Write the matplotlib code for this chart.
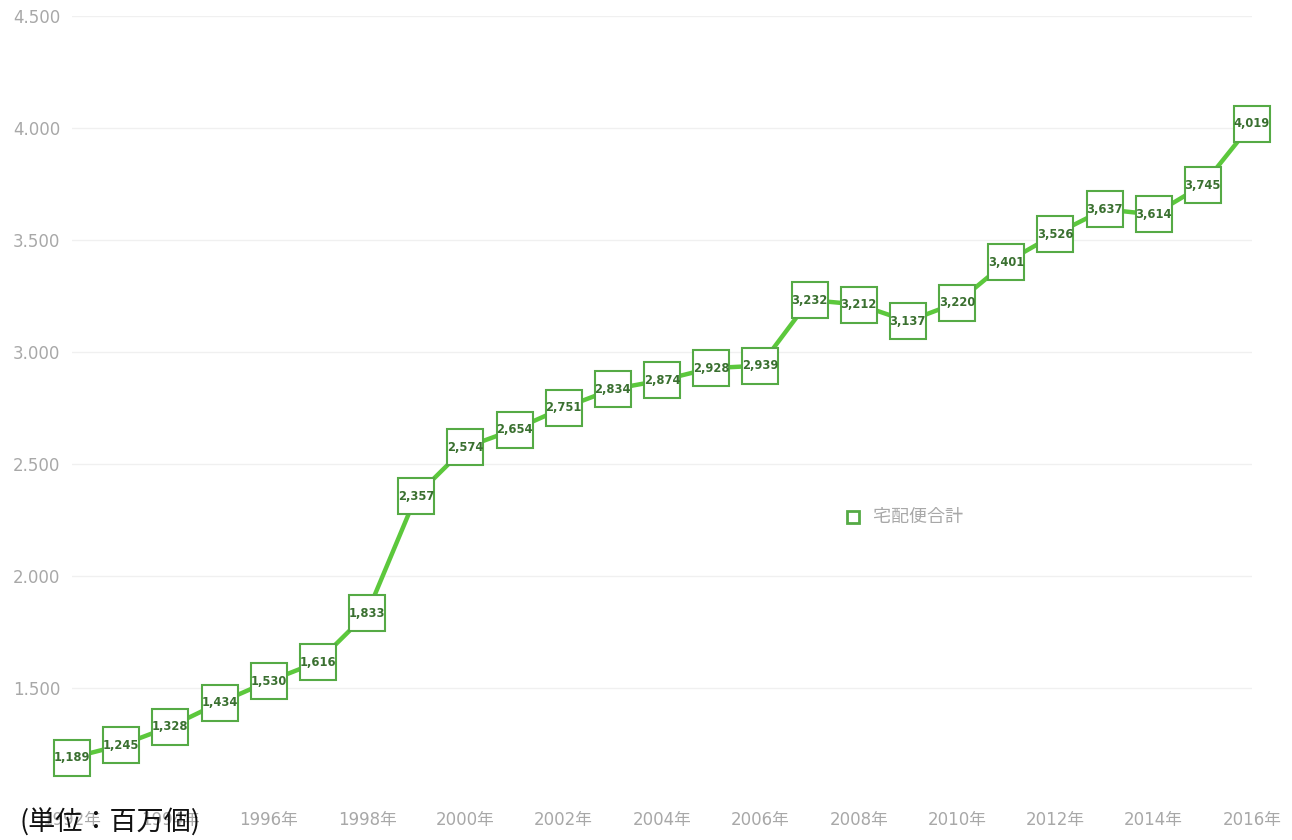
import matplotlib
matplotlib.use("Agg")
import matplotlib.pyplot as plt
from matplotlib.ticker import FuncFormatter

plt.rcParams['font.family'] = ['Noto Sans CJK JP', 'DejaVu Sans']

years = list(range(1992, 2017))
values = [1189, 1245, 1328, 1434, 1530, 1616, 1833, 2357, 2574, 2654, 2751, 2834,
          2874, 2928, 2939, 3232, 3212, 3137, 3220, 3401, 3526, 3637, 3614, 3745, 4019]
series_name = "宅配便合計"
unit_text = "(単位：百万個)"
yticks = [1500, 2000, 2500, 3000, 3500, 4000, 4500]
xtick_years = list(range(1992, 2017, 2))

green = "#5cc83c"
edge = "#55aa45"
label_color = "#3a7030"
tick_color = "#a8a8a8"
tick_family = ['DejaVu Sans', 'Noto Sans CJK JP']

fig = plt.figure(figsize=(12.92, 8.40), dpi=100)
ax = fig.add_axes([72/1292, 1-800/840, (1252-72)/1292, (800-16)/840])

ax.set_xlim(1992, 2016)
ax.set_ylim(1000, 4500)

ax.plot(years, values, color=green, lw=3.2, zorder=2, solid_capstyle='round', clip_on=False)
ax.plot(years, values, ls='none', marker='s', markersize=26, markerfacecolor='white',
        markeredgecolor=edge, markeredgewidth=1.5, zorder=3, clip_on=False)
for x, v in zip(years, values):
    ax.text(x, v, f"{v:,}", ha='center', va='center', fontsize=8.3, color=label_color,
            fontweight='bold', zorder=4, family=['DejaVu Sans'])

ax.set_yticks(yticks)
ax.yaxis.set_major_formatter(FuncFormatter(lambda v, p: f"{int(v):,}".replace(",", ".")))
ax.set_xticks(xtick_years)
ax.set_xticklabels([f"{y}年" for y in xtick_years])
ax.tick_params(axis='both', length=0, colors=tick_color, labelsize=12)
ax.tick_params(axis='y', pad=8.5)
ax.tick_params(axis='x', pad=8)
for lbl in ax.get_xticklabels() + ax.get_yticklabels():
    lbl.set_family(tick_family)
ax.grid(axis='y', color='#f0f0f0', lw=1)
ax.set_axisbelow(True)
for s in ax.spines.values():
    s.set_visible(False)

# legend
fig.lines.append(plt.Line2D([853/1292], [1-517/840], transform=fig.transFigure, marker='s',
                            markersize=8, markerfacecolor='white', markeredgecolor=edge,
                            markeredgewidth=2, ls='none'))
fig.text(873/1292, 1-517/840, series_name, ha='left', va='center', fontsize=13,
         color=tick_color)

fig.text(20/1292, 1-823/840, unit_text, ha='left', va='center', fontsize=19.5, color='#111111')

fig.savefig("out.png", dpi=100, facecolor='white')
